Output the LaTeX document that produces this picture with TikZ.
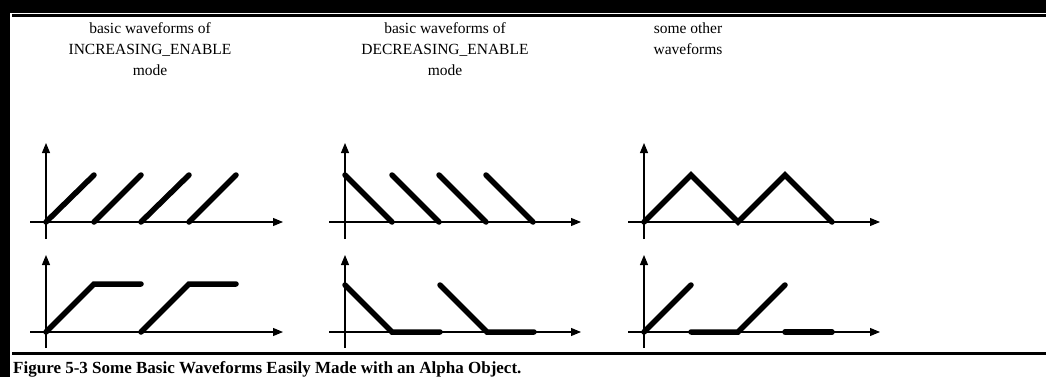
\documentclass[tikz,border=0pt]{standalone}
\usepackage{fontspec}
\setmainfont{Liberation Serif}
\usepackage{tikz}
\usetikzlibrary{arrows.meta}

\begin{document}
\begin{tikzpicture}[
    x=1pt, y=-1pt,
    axis/.style={line width=1.1pt, -{Triangle[length=10pt, width=8pt]}},
    wave/.style={line width=5.5pt, line cap=round},
    rule/.style={line width=3pt},
    heading/.style={align=center, inner sep=0pt, anchor=base, font=\fontsize{15.5}{21}\selectfont},
    caption/.style={inner sep=0pt, anchor=base west, font=\fontsize{17}{19}\selectfont\bfseries}
]
    % frame
    \fill[black] (0,0) rectangle (1046,377);
    \fill[white] (10,13) rectangle (1046,377);
    \useasboundingbox (0,0) rectangle (1046,377);
    \draw[rule] (12,15.5) -- (1046,15.5);
    \draw[rule] (12,353.5) -- (1046,353.5);

    % headings (anchored on the last line)
    \node[heading] (incmode) at (150,76) {basic waveforms of\\INCREASING\_ENABLE\\mode};
    \node[heading] (decmode) at (445,76) {basic waveforms of\\DECREASING\_ENABLE\\mode};
    \node[heading] (othermode) at (688,55) {some other\\waveforms};

    % axes, top row
    \draw[axis] (30,222) -- (283,222);
    \draw[axis] (46,239) -- (46,143);
    \draw[axis] (329,222) -- (581,222);
    \draw[axis] (345,239) -- (345,143);
    \draw[axis] (628,222) -- (880,222);
    \draw[axis] (644,239) -- (644,143);
    % axes, bottom row
    \draw[axis] (30,332) -- (283,332);
    \draw[axis] (46,348) -- (46,255);
    \draw[axis] (329,332) -- (581,332);
    \draw[axis] (345,348) -- (345,255);
    \draw[axis] (628,332) -- (880,332);
    \draw[axis] (644,348) -- (644,255);

    % increasing
    \draw[wave] (46,222) -- (94,175);
    \draw[wave] (94,222) -- (141,175);
    \draw[wave] (141,222) -- (189,175);
    \draw[wave] (189,222) -- (236,175);
    \draw[wave] (46,332) -- (94,284) -- (141,284);
    \draw[wave] (141,332) -- (189,284) -- (236,284);

    % decreasing
    \draw[wave] (345,175) -- (392,222);
    \draw[wave] (392,175) -- (439,222);
    \draw[wave] (439,175) -- (486,222);
    \draw[wave] (486,175) -- (533,222);
    \draw[wave] (345,285) -- (392,332) -- (440,332);
    \draw[wave] (440,285) -- (487,332) -- (534,332);

    % other
    \draw[wave] (644,222) -- (691,175) -- (738,222) -- (785,175) -- (832,222);
    \draw[wave] (644,332) -- (691,285);
    \draw[wave] (691,332) -- (738,332) -- (785,285);
    \draw[wave] (785,332) -- (832,332);

    % caption
    \node[caption] (figcap) at (13,373) {Figure 5-3 Some Basic Waveforms Easily Made with an Alpha Object.};
\end{tikzpicture}
\end{document}
